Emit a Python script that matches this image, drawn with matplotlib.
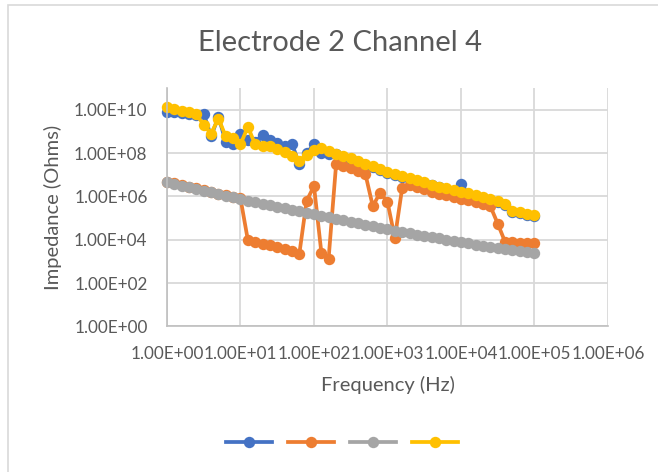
import matplotlib
matplotlib.use("Agg")
import matplotlib.pyplot as plt
from matplotlib.patches import Rectangle
from matplotlib.ticker import FixedLocator, FuncFormatter, NullLocator

plt.rcParams["font.family"] = ["Lato", "DejaVu Sans"]

# frequency sweep, 10 points per decade
freq = [1, 1.26, 1.58, 2.00, 2.51, 3.16, 3.98, 5.01, 6.31, 7.94,
        10, 12.6, 15.8, 20.0, 25.1, 31.6, 39.8, 50.1, 63.1, 79.4,
        100, 126, 158, 200, 251, 316, 398, 501, 631, 794,
        1000, 1259, 1585, 1995, 2512, 3162, 3981, 5012, 6310, 7943,
        10000, 12589, 15849, 19953, 25119, 31623, 39811, 50119, 63096, 79433,
        100000]

# impedance (ohms) per series
z_blue = [8.1e9, 7.6e9, 6.9e9, 6.3e9, 5.8e9, 6.6e9, 5.8e8, 4.8e9, 3.2e8, 2.75e8,
          7.6e8, 4.0e8, 3.2e8, 7.1e8, 4.2e8, 2.8e8, 2.2e8, 2.75e8, 3.0e7, 1.0e8,
          2.5e8, 1.0e8, 8.9e7, 8.7e7, 6.5e7, 5.1e7, 3.8e7, 2.9e7, 2.2e7, 1.62e7,
          1.26e7, 1.0e7, 8.1e6, 6.6e6, 5.1e6, 4.1e6, 3.2e6, 2.6e6, 2.2e6, 1.82e6,
          3.7e6, 1.26e6, 1.05e6, 8.5e5, 6.9e5, 5.5e5, 4.2e5, 2.0e5, 1.70e5, 1.41e5,
          1.20e5]
z_orange = [4.8e6, 4.0e6, 3.3e6, 2.76e6, 2.35e6, 1.95e6, 1.63e6, 1.35e6, 1.12e6, 9.6e5,
            8.0e5, 9.5e3, 7.6e3, 6.6e3, 5.5e3, 4.6e3, 3.8e3, 3.0e3, 2.2e3, 6.2e5,
            3.0e6, 2.5e3, 1.35e3, 3.1e7, 2.5e7, 2.0e7, 1.45e7, 1.05e7, 3.5e5, 1.51e6,
            5.5e5, 1.20e4, 2.5e6, 3.4e6, 2.6e6, 2.1e6, 1.66e6, 1.32e6, 1.12e6, 9.3e5,
            7.4e5, 6.5e5, 5.4e5, 4.4e5, 3.5e5, 5.5e4, 7.9e3, 7.6e3, 7.2e3, 6.9e3,
            7.4e3]
z_gray = [4.57e6, 3.80e6, 3.16e6, 2.63e6, 2.24e6, 1.86e6, 1.55e6, 1.29e6, 1.07e6, 9.12e5,
          7.59e5, 6.46e5, 5.50e5, 4.68e5, 3.98e5, 3.39e5, 2.88e5, 2.45e5, 2.09e5, 1.78e5,
          1.55e5, 1.29e5, 1.10e5, 9.3e4, 7.9e4, 6.8e4, 5.8e4, 4.9e4, 4.2e4, 3.5e4,
          3.0e4, 2.6e4, 2.3e4, 2.0e4, 1.74e4, 1.51e4, 1.32e4, 1.15e4, 1.0e4, 8.7e3,
          7.6e3, 6.8e3, 6.0e3, 5.4e3, 4.8e3, 4.3e3, 3.8e3, 3.4e3, 3.0e3, 2.7e3,
          2.4e3]
z_yellow = [1.26e10, 1.05e10, 8.9e9, 7.6e9, 6.0e9, 2.0e9, 7.9e8, 3.9e9, 5.8e8, 4.7e8,
            2.5e8, 1.66e9, 2.5e8, 2.2e8, 2.0e8, 1.58e8, 1.12e8, 7.6e7, 4.5e7, 8.3e7,
            1.41e8, 1.70e8, 1.20e8, 9.5e7, 7.1e7, 5.6e7, 4.2e7, 3.2e7, 2.4e7, 1.78e7,
            1.38e7, 1.10e7, 8.9e6, 7.2e6, 5.6e6, 4.5e6, 3.5e6, 2.8e6, 2.4e6, 2.0e6,
            1.58e6, 1.38e6, 1.15e6, 9.3e5, 7.6e5, 6.0e5, 4.6e5, 2.2e5, 1.86e5, 1.55e5,
            1.32e5]

series = [z_blue, z_orange, z_gray, z_yellow]
colors = ["#4472C4", "#ED7D31", "#A5A5A5", "#FFC000"]

x_ticks = [1e0, 1e1, 1e2, 1e3, 1e4, 1e5, 1e6]
y_ticks = [1e0, 1e2, 1e4, 1e6, 1e8, 1e10]

fig = plt.figure(figsize=(6.58, 4.72), dpi=100)
ax = fig.add_axes([0.2538, 0.3083, 0.6702, 0.5053])

# light chart border
fig.patches.append(Rectangle((8 / 658, -0.1), 1.2, 1 - 5 / 472 + 0.1,
                             transform=fig.transFigure, fill=False,
                             edgecolor="#D9D9D9", linewidth=1.2))

handles = []
for z, c in zip(series, colors):
    h, = ax.plot(freq, z, color=c, lw=2.7, marker="o", ms=8.2,
                 markeredgewidth=0, clip_on=False)
    handles.append(h)

ax.set_xscale("log")
ax.set_yscale("log")
ax.set_xlim(1, 1e6)
ax.set_ylim(1, 1e11)

sci = FuncFormatter(lambda v, pos: f"{v:.2E}")
ax.xaxis.set_major_locator(FixedLocator(x_ticks))
ax.yaxis.set_major_locator(FixedLocator(y_ticks))
ax.xaxis.set_minor_locator(NullLocator())
ax.yaxis.set_minor_locator(NullLocator())
ax.xaxis.set_major_formatter(sci)
ax.yaxis.set_major_formatter(sci)
ax.tick_params(length=0, labelsize=12.3, labelcolor="#595959", pad=14)

ax.grid(True, color="#D9D9D9", lw=1.3)
ax.set_axisbelow(True)
for side in ["top", "right"]:
    ax.spines[side].set_visible(False)
for side in ["left", "bottom"]:
    ax.spines[side].set_color("#BFBFBF")
    ax.spines[side].set_linewidth(1.2)

fig.text(340 / 658, 1 - 43 / 472, "Electrode 2 Channel 4", ha="center",
         va="center", fontsize=21, color="#595959")

ax.set_xlabel("Frequency (Hz)", fontsize=14.5, color="#595959")
ax.set_ylabel("Impedance (Ohms)", fontsize=14.5, color="#595959")
ax.xaxis.set_label_coords(0.5, (326.5 - 385) / 238.5)
ax.yaxis.set_label_coords((53 - 167) / 441, 0.5)
ax.xaxis.label.set_va("center")
ax.yaxis.label.set_va("center")

fig.legend(handles, ["", "", "", ""], loc="center", ncol=4, frameon=False,
           bbox_to_anchor=(342 / 658, 1 - 443 / 472), fontsize=10,
           handlelength=3.3, handletextpad=0, columnspacing=1.15)

fig.savefig("out.png", dpi=100)
